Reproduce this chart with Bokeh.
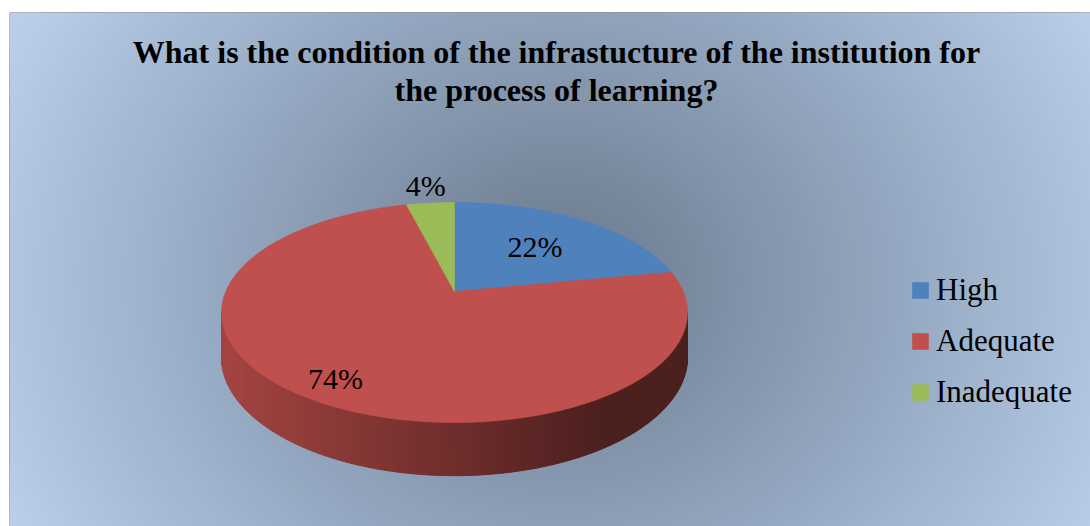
import numpy as np
from bokeh.plotting import figure
from bokeh.models import ColumnDataSource, Range1d, Label, Legend, LegendItem, Span
from bokeh.embed import file_html
from bokeh.resources import INLINE
from bokeh.core.properties import value

# ---------------- data ----------------
title_lines = ["What is the condition of the infrastucture of the institution for",
               "the process of learning?"]
categories = ["High", "Adequate", "Inadequate"]
shares = [22, 74, 4]
colors = ["#4F81BD", "#C0504D", "#9BBB59"]

# ---------------- style / layout ----------------
FONT = "Liberation Serif"
label_radius = [0.6, 0.84, 1.24]          # radial position of the % labels (fraction of radius)
FX0, FX1, FY0, FY1 = 9, 1090, 12, 526     # frame extent in page pixels
CX, CY = 454, 291                          # pie apex
RA, RB, K, DEPTH = 228.7, 106.0, 0.191, 43.0
EDGE_RGB = np.array([184, 206, 234], dtype=float)
CENTER_RGB = np.array([105, 120, 140], dtype=float)

p = figure(width=1090, height=526,
           x_range=Range1d(FX0, FX1), y_range=Range1d(FY1, FY0),
           x_axis_type=None, y_axis_type=None,
           output_backend="svg", toolbar_location=None,
           min_border_left=FX0, min_border_right=0, min_border_top=FY0, min_border_bottom=0,
           outline_line_color=None, border_fill_color="white",
           background_fill_color="#%02x%02x%02x" % tuple(EDGE_RGB.astype(int)))

# ---------- radial background gradient (concentric ellipses) ----------
steps = np.linspace(1.0, 0.0, 90, endpoint=False)
g_cols = []
for s in steps:
    c = (CENTER_RGB + (EDGE_RGB - CENTER_RGB) * s).astype(int)
    g_cols.append("#%02x%02x%02x" % tuple(c))
p.ellipse(x=560, y=280, width=list(2 * 610 * steps), height=list(2 * 540 * steps),
          fill_color=g_cols, line_color=None)


# ---------- pie geometry (perspective projection of a disc) ----------
def proj(theta, r=1.0, drop=0.0):
    Xd = r * np.sin(theta)
    Zd = r * np.cos(theta)
    s = 1 + K * Zd
    return CX + RA * Xd / s, CY - RB * Zd / s + DEPTH * drop / s


total = float(sum(shares))
edges = np.concatenate([[0.0], np.cumsum(shares)]) / total * 2 * np.pi


def slice_index(theta):
    th = theta % (2 * np.pi)
    for i in range(len(shares)):
        if edges[i] <= th < edges[i + 1]:
            return i
    return len(shares) - 1


def hex_to_rgb(h):
    h = h.lstrip("#")
    return np.array([int(h[i:i + 2], 16) for i in (0, 2, 4)], dtype=float)


# side (visible front wall), shaded by horizontal position
ts = np.arccos(-K)
side_t = np.linspace(ts, 2 * np.pi - ts, 181)
sx_list, sy_list, sc_list = [], [], []
for a, b in zip(side_t[:-1], side_t[1:]):
    xa, ya = proj(a)
    xb, yb = proj(b)
    xa2, ya2 = proj(a, drop=1)
    xb2, yb2 = proj(b, drop=1)
    mid = 0.5 * (a + b)
    base = hex_to_rgb(colors[slice_index(mid)])
    xm = 0.5 * (xa + xb)
    f = 0.86 - (0.86 - 0.40) * np.clip((xm - 221) / (600 - 221), 0, 1)
    c = np.clip(base * f, 0, 255).astype(int)
    sx_list.append([xa, xb, xb2, xa2])
    sy_list.append([ya, yb, yb2, ya2])
    sc_list.append("#%02x%02x%02x" % tuple(c))
p.patches(xs="xs", ys="ys", fill_color="c", line_color="c", line_width=1,
          source=ColumnDataSource(dict(xs=sx_list, ys=sy_list, c=sc_list)))

# top face slices
top_x, top_y = [], []
for i in range(len(shares)):
    th = np.linspace(edges[i], edges[i + 1], max(3, int(shares[i] * 4)))
    rx, ry = proj(th)
    top_x.append([CX] + list(rx))
    top_y.append([CY] + list(ry))
top_src = ColumnDataSource(dict(xs=top_x, ys=top_y, c=colors, cat=categories))
top_r = p.patches(xs="xs", ys="ys", fill_color="c", line_color="c", line_width=0.6,
                  source=top_src)

# percentage labels
mids = 0.5 * (edges[:-1] + edges[1:])
lx, ly = [], []
for m, r in zip(mids, label_radius):
    x_, y_ = proj(m, r=r)
    lx.append(x_)
    ly.append(y_)
p.text(x="x", y="y", text="t",
       source=ColumnDataSource(dict(x=lx, y=ly, t=[f"{v}%" for v in shares])),
       text_font=value(FONT), text_font_size="30px", text_color="black",
       text_align="center", text_baseline="middle")

# title
for line, yb in zip(title_lines, [51, 89]):
    p.add_layout(Label(x=556, y=yb, text=line, text_font=FONT, text_font_size="32px",
                       text_font_style="bold", text_color="black",
                       text_align="center", text_baseline="alphabetic"))

# legend
legend = Legend(items=[LegendItem(label=c, renderers=[top_r], index=i)
                       for i, c in enumerate(categories)],
                location=(901, 116), orientation="vertical",
                label_text_font=FONT, label_text_font_size="31px", label_text_color="black",
                glyph_width=20, glyph_height=20, label_standoff=6, spacing=15,
                padding=0, margin=0, background_fill_alpha=0, border_line_alpha=0)
p.add_layout(legend)

# chart border (left and top visible)
p.add_layout(Span(location=FX0 - 0.5, dimension="height", line_color="#8c8c8c", line_width=2))
p.add_layout(Span(location=FY0 - 0.5, dimension="width", line_color="#8c8c8c", line_width=2))

open("out.html", "w").write(file_html(p, INLINE))
